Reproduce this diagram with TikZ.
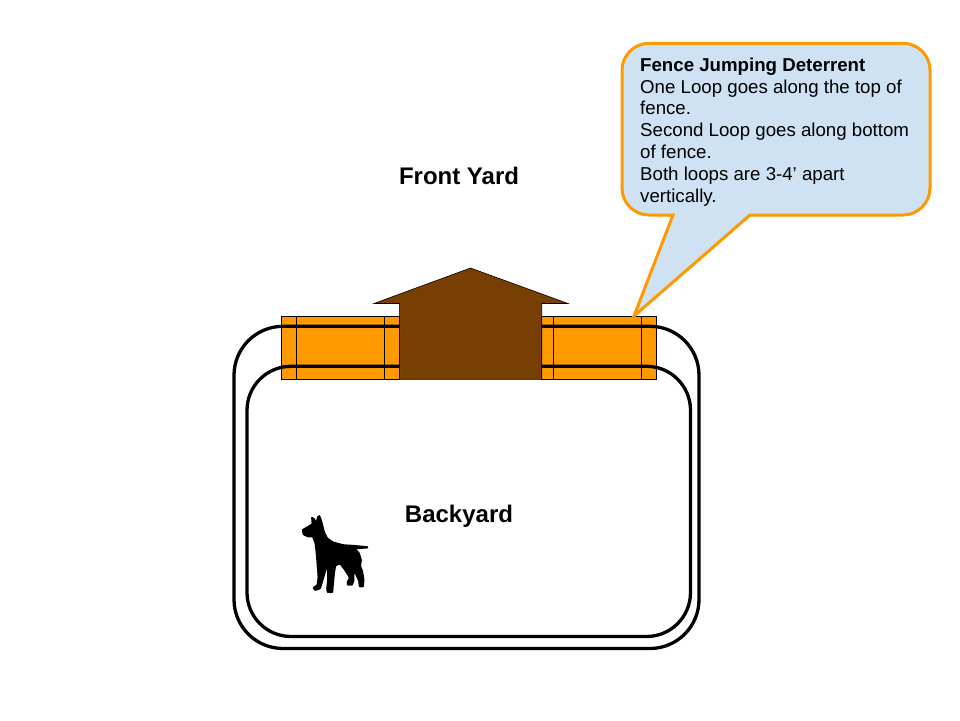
\documentclass[tikz,border=0pt]{standalone}
\usepackage{fontspec}
\setmainfont{Liberation Sans}
\definecolor{fenceorange}{HTML}{FF9900}
\definecolor{housebrown}{HTML}{783F04}
\definecolor{calloutblue}{HTML}{CFE2F3}
\tikzset{
    yard/.style = {font=\fontsize{24}{28}\selectfont\bfseries, inner sep=0pt},
    wireloop/.style = {draw=black, line width=3.3pt, rounded corners=#1},
    fencepanel/.style = {draw=black, fill=fenceorange, line width=1.2pt},
    post/.style = {draw=black, line width=1.2pt}
}

\begin{document}
\begin{tikzpicture}[x=1pt, y=-1pt]
    \useasboundingbox (0, 0) rectangle (960, 720);
    % fence panels
    \draw[fencepanel] (281.5, 316.3) rectangle (399.3, 379.3);
    \draw[fencepanel] (541.7, 316.3) rectangle (656.7, 379.3);
    \draw[post]
        (296.3, 316.3) -- ++ (0, 63)
        (384.7, 316.3) -- ++ (0, 63)
        (553.3, 316.3) -- ++ (0, 63)
        (641.7, 316.3) -- ++ (0, 63)
    ;
    % both wire loops
    \draw[wireloop=49pt] (234, 326.3) rectangle (699, 648.5);
    \draw[wireloop=44pt] (247, 366.3) rectangle (690.5, 636.5);
    % house
    \draw[fill=housebrown, draw=black, line width=0.6pt]
        (470.5, 268) -- (568, 303.5) -- (541.7, 303.5) -- (541.7, 379.3)
        -- (399.3, 379.3) -- (399.3, 303.5) -- (374, 303.5) -- cycle
    ;
    \node[yard] (frontyard) at (459, 176) {Front Yard};
    \node[yard] (backyard) at (459, 516) {Backyard};
    % dog
    \begin{scope}[shift={(290, 505)}, x=0.3333pt, y=-0.3333pt]
        \filldraw[black, line width=1.6pt, line join=round] plot[smooth cycle, tension=0.2] coordinates {
            (38,75) (60,62) (67,56) (66,38) (73,43) (78,54) (84,36) (88,33) (92,42)
            (97,60) (102,80) (112,100) (130,112) (160,120) (190,122) (232,126) (232,128)
            (196,131) (207,145) (213,165) (211,183) (217,200) (221,225) (219,244) (209,244)
            (207,228) (198,208) (191,198) (191,225) (186,239) (173,239) (173,230) (179,218)
            (163,192) (150,176) (137,182) (133,200) (129,240) (127,261) (113,261) (111,250)
            (114,225) (113,192) (108,190) (101,215) (90,250) (75,255) (71,248) (82,240)
            (85,215) (80,150) (76,115) (68,95) (55,95) (41,88)
        };
    \end{scope}
    % callout
    \draw[draw=fenceorange, fill=calloutblue, line width=3pt, line join=miter]
        (649, 43.3) -- (903, 43.3) arc[start angle=90, end angle=0, radius=27pt]
        -- (930, 188) arc[start angle=0, end angle=-90, radius=27pt]
        -- (750, 215) -- (634, 316) -- (673, 215)
        -- (649, 215) arc[start angle=-90, end angle=-180, radius=27pt]
        -- (622, 70.3) arc[start angle=180, end angle=90, radius=27pt] -- cycle
    ;
    \node[anchor=north west, inner sep=0pt, align=left, font=\fontsize{18.67}{21.8}\selectfont] (note) at (640, 57.5)
        {\textbf{Fence Jumping Deterrent}\\
        One Loop goes along the top of\\
        fence.\\
        Second Loop goes along bottom\\
        of fence.\\
        Both loops are 3-4’ apart\\
        vertically.};
\end{tikzpicture}
\end{document}
